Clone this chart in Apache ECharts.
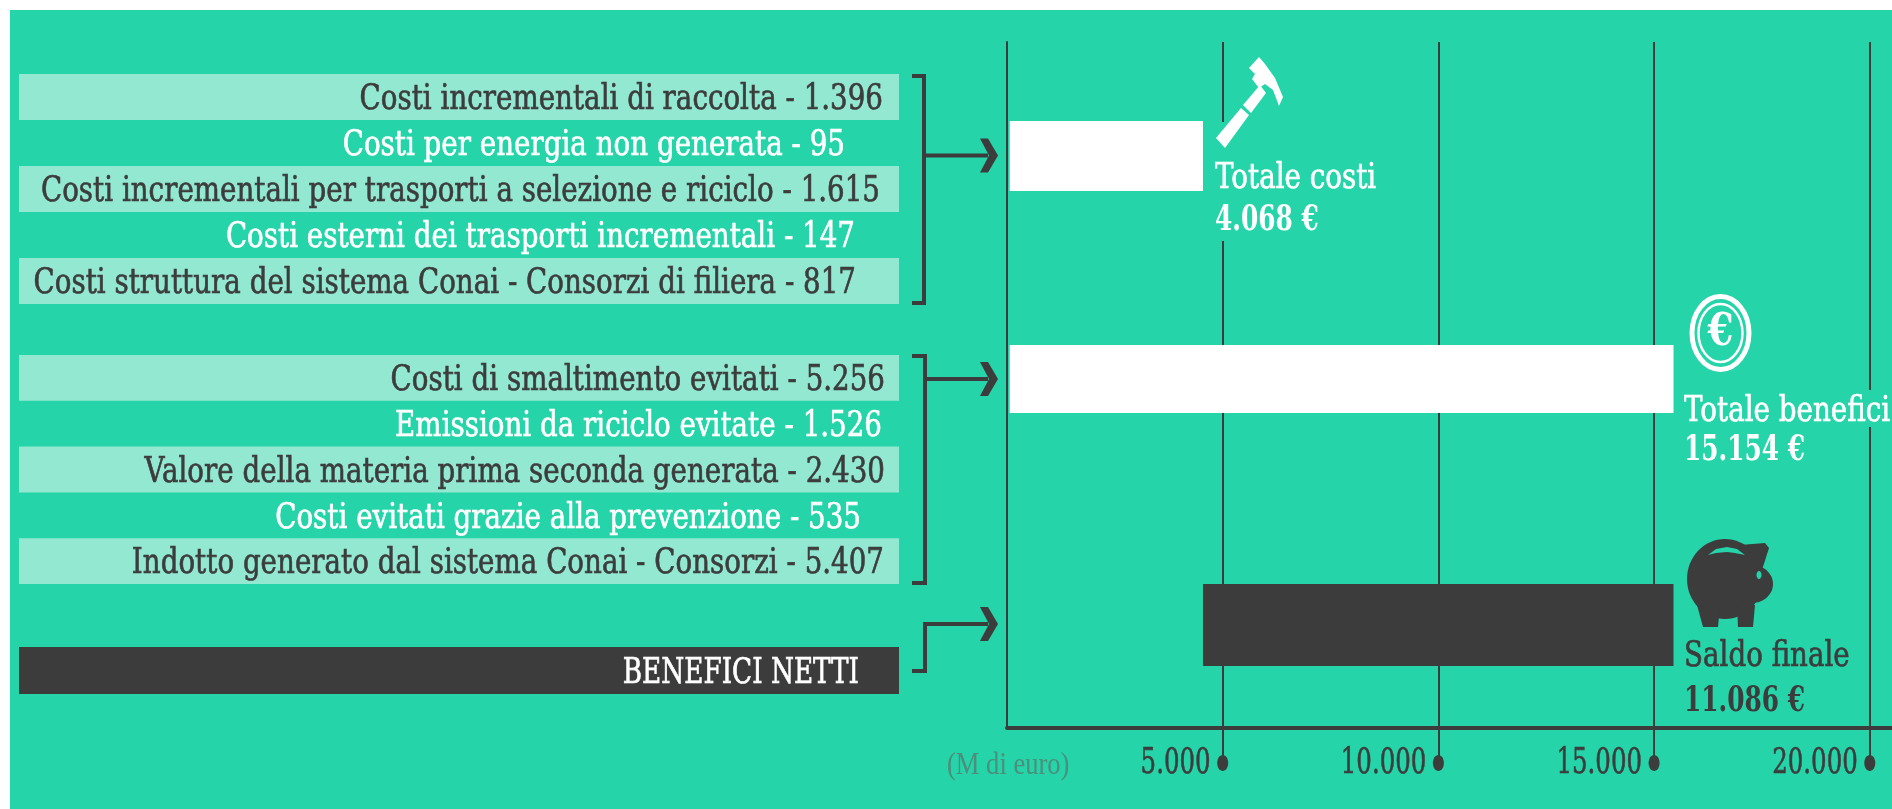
<!DOCTYPE html>
<html>
<head>
<meta charset="utf-8">
<style>
  html, body { margin: 0; padding: 0; background: #fff; }
  #main { width: 1892px; height: 809px; }
</style>
<script src="https://cdn.jsdelivr.net/npm/echarts@6/dist/echarts.min.js"></script>
</head>
<body>
<div id="main"></div>
<script>
const costNames = ['Costi incrementali di raccolta', 'Costi per energia non generata', 'Costi incrementali per trasporti a selezione e riciclo', 'Costi esterni dei trasporti incrementali', 'Costi struttura del sistema Conai - Consorzi di filiera']
const costValues = [1396, 95, 1615, 147, 817]
const benefitNames = ['Costi di smaltimento evitati', 'Emissioni da riciclo evitate', 'Valore della materia prima seconda generata', 'Costi evitati grazie alla prevenzione', 'Indotto generato dal sistema Conai - Consorzi']
const benefitValues = [5256, 1526, 2430, 535, 5407]
const netName = 'BENEFICI NETTI'

const totalNames = ['Totale costi', 'Totale benefici', 'Saldo finale']
const totalValues = [4068, 15154, 11086]

// bars as drawn in the picture, they do not quite agree with the printed totals
const barStart = [63, 63, 4543]
const barEnd = [4543, 15450, 15450]

const tickValues = [5000, 10000, 15000, 20000]
const unitLabel = '(M di euro)'

const GREEN = '#25d4a8'
const BAND = '#93e8d2'
const DARK = '#3c3c3c'
const SERIF = '"DejaVu Serif", serif'

// layout only
const costEnds = [883, 845, 880, 855, 856]
const benefitEnds = [885, 882, 885, 861, 884]
const barCentres = [114, 337, 583]
const barThickness = [70, 68, 82]

const euro = v => String(v).replace(/\B(?=(\d{3})+$)/g, '.')

const rowSeries = (gridIndex, names, values, ends, dark) => ({
  type: 'custom',
  xAxisIndex: gridIndex,
  yAxisIndex: gridIndex,
  silent: true,
  data: names.map((n, i) => [1, i]),
  renderItem: (params, api) => {
    const i = params.dataIndex
    const p = api.coord([0, i])
    const size = api.size([1, 1])
    const shaded = dark || i % 2 === 0
    const text = values ? names[i] + ' - ' + euro(values[i]) : names[i]
    const fill = shaded && !dark ? DARK : '#fff'
    const children = []
    if (shaded) {
      children.push({
        type: 'rect',
        shape: {x: p[0], y: p[1] - size[1] / 2, width: size[0], height: size[1]},
        style: {fill: dark ? DARK : BAND}
      })
    }
    children.push({
      type: 'text',
      x: ends[i],
      y: p[1] + 3,
      scaleX: dark ? 0.73 : 0.77,
      style: {
        text: text,
        align: 'right',
        verticalAlign: 'middle',
        fontFamily: SERIF,
        fontSize: 36,
        fill: fill,
        stroke: fill,
        lineWidth: 0.7
      }
    })
    return {type: 'group', children: children}
  }
})

const leftGrid = (top, height) => ({left: 19, width: 880, top: top, height: height})
const hiddenX = i => ({type: 'value', gridIndex: i, min: 0, max: 1, show: false})
const hiddenY = (i, cats) => ({type: 'category', gridIndex: i, data: cats, inverse: true, show: false})

const label = (x, y, text, fill, bold, sx) => ({
  type: 'text',
  x: x,
  y: y,
  scaleX: sx,
  z: 12,
  style: {
    text: text,
    fontFamily: SERIF,
    fontSize: 36,
    fontWeight: bold ? 'bold' : 'normal',
    fill: fill,
    stroke: bold ? null : fill,
    lineWidth: 0.7,
    align: 'left',
    verticalAlign: 'middle'
  }
})

const bracket = points => ({
  type: 'polyline',
  z: 5,
  shape: {points: points},
  style: {stroke: DARK, lineWidth: 4, fill: null}
})

const arrow = (tip, y) => ({
  type: 'polygon',
  z: 5,
  shape: {points: [[tip - 18, y - 17], [tip - 10, y - 17], [tip, y], [tip - 10, y + 17], [tip - 18, y + 17], [tip - 9, y]]},
  style: {fill: DARK}
})

const decorations = [
  {type: 'rect', z: -10, shape: {x: 10, y: 10, width: 1882, height: 799}, style: {fill: GREEN}},

  bracket([[912, 76], [924, 76], [924, 303], [912, 303]]),
  bracket([[924, 155.5], [988, 155.5]]),
  arrow(998, 155.5),
  bracket([[912, 356], [925, 356], [925, 583], [912, 583]]),
  bracket([[925, 379], [988, 379]]),
  arrow(998, 379),
  bracket([[912, 671], [925, 671], [925, 624], [988, 624]]),
  arrow(998, 624),

  // gaps in the grid lines behind the labels
  {type: 'rect', z: 8, shape: {x: 1217, y: 122, width: 12, height: 119}, style: {fill: GREEN}},
  {type: 'rect', z: 8, shape: {x: 1864, y: 390, width: 12, height: 37}, style: {fill: GREEN}},

  // hammer
  {type: 'polygon', z: 10, shape: {points: [[1216, 138], [1241, 108], [1249, 115], [1225, 148]]}, style: {fill: '#fff'}},
  {type: 'polygon', z: 10, shape: {points: [[1243, 105], [1260, 85], [1266, 93], [1251, 113]]}, style: {fill: '#fff'}},
  {type: 'polygon', z: 10, shape: {points: [[1259, 57], [1265, 64], [1275, 78], [1283, 97], [1279, 106], [1273, 90], [1265, 84], [1259, 88], [1252, 79], [1255, 74], [1249, 68]]}, style: {fill: '#fff'}},

  // coin
  {type: 'ellipse', z: 10, shape: {cx: 1720.5, cy: 333, rx: 28.5, ry: 36.5}, style: {fill: null, stroke: '#fff', lineWidth: 5}},
  {type: 'ellipse', z: 10, shape: {cx: 1720.5, cy: 333, rx: 22, ry: 29}, style: {fill: null, stroke: '#fff', lineWidth: 2.5}},
  {type: 'text', z: 10, x: 1720.5, y: 334, scaleX: 0.85, style: {text: '€', fontFamily: SERIF, fontWeight: 'bold', fontSize: 44, fill: '#fff', align: 'center', verticalAlign: 'middle'}},

  // piggy bank
  {type: 'ellipse', z: 10, shape: {cx: 1725, cy: 579, rx: 38, ry: 40}, style: {fill: DARK}},
  {type: 'ellipse', z: 10, shape: {cx: 1752, cy: 584, rx: 21, ry: 19}, style: {fill: DARK}},
  {type: 'polygon', z: 10, shape: {points: [[1740, 545], [1765, 543], [1769, 548], [1762, 570], [1745, 565]]}, style: {fill: DARK}},
  {type: 'polygon', z: 10, shape: {points: [[1697, 605], [1720, 605], [1718, 627], [1703, 627]]}, style: {fill: DARK}},
  {type: 'polygon', z: 10, shape: {points: [[1737, 605], [1755, 605], [1753, 627], [1738, 627]]}, style: {fill: DARK}},
  {type: 'polygon', z: 10, shape: {points: [[1708, 555], [1716, 549], [1727, 547], [1737, 549], [1745, 555], [1735, 553], [1727, 552], [1716, 553]]}, style: {fill: GREEN}},
  {type: 'ellipse', z: 11, shape: {cx: 1759, cy: 575, rx: 2.5, ry: 4}, style: {fill: GREEN}},

  label(1215, 179, totalNames[0], '#fff', false, 0.77),
  label(1215, 221, euro(totalValues[0]) + ' €', '#fff', true, 0.69),
  label(1684, 412, totalNames[1], '#fff', false, 0.77),
  label(1684, 451, euro(totalValues[1]) + ' €', '#fff', true, 0.69),
  label(1684, 657, totalNames[2], DARK, false, 0.77),
  label(1684, 702, euro(totalValues[2]) + ' €', DARK, true, 0.69),

  {type: 'text', z: 5, x: 947, y: 766, scaleX: 0.83, style: {text: unitLabel, fontFamily: '"Liberation Serif", serif', fontSize: 32, fill: '#4c8f7c', align: 'left', verticalAlign: 'middle'}}
]

const chart = echarts.init(document.getElementById('main'))

chart.setOption({
  animation: false,
  backgroundColor: '#fff',
  grid: [
    leftGrid(74, 230),
    leftGrid(355, 229),
    leftGrid(647, 47),
    {left: 1007, right: 0, top: 42, bottom: 81}
  ],
  xAxis: [
    hiddenX(0),
    hiddenX(1),
    hiddenX(2),
    {
      type: 'value',
      gridIndex: 3,
      position: 'bottom',
      min: 0,
      max: 20515,
      axisLine: {show: true, onZero: false, lineStyle: {color: DARK, width: 4}},
      axisTick: {show: true, customValues: tickValues, length: 35, lineStyle: {color: DARK, width: 2}},
      axisLabel: {show: false, customValues: tickValues},
      splitLine: {show: true, lineStyle: {color: DARK, width: 2}}
    }
  ],
  yAxis: [
    hiddenY(0, costNames),
    hiddenY(1, benefitNames),
    hiddenY(2, [netName]),
    {
      type: 'value',
      gridIndex: 3,
      min: 0,
      max: 686,
      inverse: true,
      axisLine: {show: true, onZero: false, lineStyle: {color: DARK, width: 2}},
      axisTick: {show: false},
      axisLabel: {show: false},
      splitLine: {show: false}
    }
  ],
  series: [
    rowSeries(0, costNames, costValues, costEnds, false),
    rowSeries(1, benefitNames, benefitValues, benefitEnds, false),
    rowSeries(2, [netName], null, [859], true),
    {
      type: 'custom',
      xAxisIndex: 3,
      yAxisIndex: 3,
      silent: true,
      data: barEnd.map((v, i) => [barStart[i], v]),
      renderItem: (params, api) => {
        const i = params.dataIndex
        const a = api.coord([api.value(0), barCentres[i]])
        const b = api.coord([api.value(1), barCentres[i]])
        const h = api.size([0, barThickness[i]])[1]
        return {
          type: 'rect',
          shape: {x: a[0], y: a[1] - h / 2, width: b[0] - a[0], height: h},
          style: {fill: i === 2 ? DARK : '#fff'}
        }
      }
    },
    {
      type: 'custom',
      xAxisIndex: 3,
      yAxisIndex: 3,
      silent: true,
      data: tickValues.map(v => [v]),
      renderItem: (params, api) => {
        const p = api.coord([api.value(0), 686])
        return {
          type: 'group',
          children: [
            {type: 'ellipse', shape: {cx: p[0], cy: p[1] + 35, rx: 5.5, ry: 8}, style: {fill: DARK}},
            {
              type: 'text',
              x: p[0] - 12,
              y: p[1] + 36,
              scaleX: 0.68,
              style: {
                text: euro(api.value(0)),
                align: 'right',
                verticalAlign: 'middle',
                fontFamily: SERIF,
                fontSize: 36,
                fill: DARK,
                stroke: DARK,
                lineWidth: 0.6
              }
            }
          ]
        }
      }
    }
  ],
  graphic: {elements: decorations}
})
</script>
</body>
</html>
